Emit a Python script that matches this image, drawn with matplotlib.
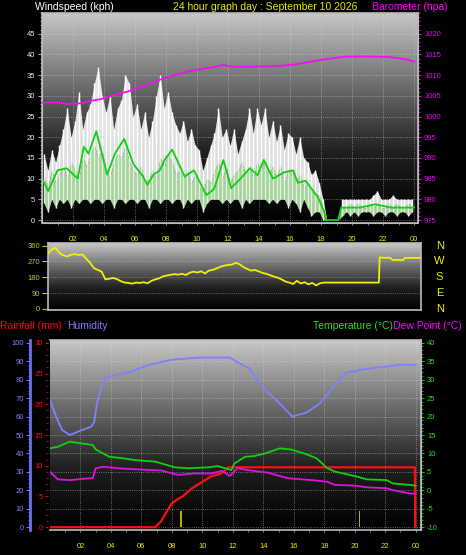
import matplotlib
matplotlib.use('Agg')
import matplotlib.pyplot as plt
import numpy as np
from matplotlib.colors import LinearSegmentedColormap

plt.rcParams['font.family'] = ['Liberation Sans', 'DejaVu Sans']
plt.rcParams['axes.unicode_minus'] = False

# ---- wind speed (kph), 15 minute samples ----
gust = [16, 12, 17, 14, 18, 22, 27, 20, 24, 31, 22, 26, 28, 33, 37, 30,
        26, 30, 22, 27, 29, 35, 33, 25, 28, 22, 26, 20, 24, 30, 35, 27,
        31, 26, 23, 21, 24, 19, 22, 18, 17, 12, 15, 18, 21, 27, 20, 22,
        18, 22, 16, 19, 22, 27, 21, 27, 23, 27, 20, 24, 19, 23, 17, 21,
        20, 16, 20, 15, 14, 11, 12, 9, 5, 0, 0, 0, 0, 5, 5, 5,
        5, 5, 5, 5, 5, 6, 7, 5, 5, 5, 6, 5, 5, 5, 5, 5]
speed_hi = [10, 8, 12, 9, 11, 13, 10, 14, 12, 10, 15, 13, 16, 18, 15, 17,
            12, 10, 14, 16, 15, 18, 14, 12, 11, 13, 9, 10, 12, 10, 15, 13,
            16, 14, 11, 12, 10, 12, 9, 11, 8, 7, 10, 9, 12, 14, 10, 13,
            9, 11, 12, 14, 11, 13, 10, 14, 12, 15, 11, 13, 10, 13, 9, 12,
            12, 9, 11, 8, 9, 7, 6, 6, 3, 0, 0, 0, 0, 3, 3, 4,
            3, 4, 3, 3, 4, 3, 4, 3, 3, 4, 3, 4, 3, 3, 4, 3]
speed_lo = [4, 2, 5, 3, 5, 4, 5, 3, 5, 4, 5, 5, 4, 5, 5, 4,
            5, 5, 3, 5, 5, 4, 5, 5, 4, 5, 5, 3, 5, 5, 4, 5,
            5, 4, 5, 5, 3, 5, 4, 5, 5, 2, 4, 5, 5, 5, 4, 5,
            4, 5, 5, 3, 5, 4, 5, 5, 5, 5, 4, 5, 4, 5, 5, 3,
            5, 4, 2, 5, 3, 1, 2, 2, 0, 0, 0, 0, 0, 1, 2, 1,
            2, 1, 2, 2, 2, 1, 2, 2, 1, 2, 2, 1, 2, 2, 1, 2]
avg_t = [0, 0.4, 1.0, 1.6, 2.3, 2.7, 3.0, 3.5, 3.8, 4.2, 4.7, 5.3, 5.9, 6.5, 6.8,
         7.2, 7.6, 7.9, 8.4, 9.2, 9.8, 10.6, 11.1, 11.7, 12.2, 12.8, 13.4, 13.9,
         14.3, 14.9, 15.6, 16.2, 16.5, 17.0, 17.4, 17.8, 18.2, 18.3, 19.1, 19.3,
         20.5, 21.5, 22.5, 23.5, 24]
avg_v = [10, 7, 12, 12.5, 10, 17.7, 16, 21.4, 17, 11, 16, 19.6, 13.5, 10.6, 8.5,
         11, 12, 14.5, 17, 10.5, 12, 6, 7.5, 14.5, 7.7, 10, 12.5, 10.8,
         14.5, 10, 11.5, 12, 9, 9.5, 7.5, 5.5, 2, 0, 0, 3,
         3, 3.8, 3, 3, 3]

# ---- barometer (hPa) ----
baro_t = [0, 1.0, 1.6, 2.5, 3.2, 3.8, 4.5, 5.5, 6.2, 7.0, 7.9, 8.3, 9.2, 10.0, 10.6,
          11.2, 11.7, 12.3, 13.0, 14.3, 15.2, 16.2, 17.0, 18.0, 19.0, 19.7, 21.0,
          22.3, 23.2, 24]
baro_v = [1003.3, 1003.4, 1003.0, 1003.2, 1003.8, 1004.2, 1005.0, 1006.0, 1007.0,
          1008.0, 1009.3, 1009.7, 1010.7, 1011.3, 1011.7, 1012.0, 1012.5, 1012.0,
          1012.0, 1012.1, 1012.2, 1012.5, 1013.0, 1013.7, 1014.2, 1014.5, 1014.5,
          1014.4, 1014.0, 1013.3]

# ---- wind direction (deg) ----
dir_t = [0.0, 0.25, 0.5, 0.75, 1.0, 1.25, 1.5, 1.75, 2.0, 2.25, 2.5, 2.75, 3.0, 3.25,
         3.5, 3.75, 4.0, 4.25, 4.5, 4.75, 5.0, 5.25, 5.5, 5.75, 6.0, 6.25, 6.5, 6.75,
         7.0, 7.25, 7.5, 7.75, 8.0, 8.25, 8.5, 8.75, 9.0, 9.25, 9.5, 9.75, 10.0,
         10.25, 10.5, 10.75, 11.0, 11.25, 11.5, 11.75, 12.0, 12.25, 12.5, 12.75,
         13.0, 13.25, 13.5, 13.75, 14.0, 14.25, 14.5, 14.75, 15.0, 15.25, 15.5,
         15.75, 16.0, 16.25, 16.5, 16.75, 17.0, 17.25, 17.5, 17.75, 18.0,
         21.6, 21.65, 22.0, 22.3, 22.5, 23.2, 23.3, 24.35]
dir_v = [316, 340, 348, 318, 305, 298, 308, 312, 306, 310, 285, 262, 232, 222,
         212, 168, 172, 176, 170, 158, 150, 148, 144, 150, 148, 152, 146, 160,
         168, 174, 185, 190, 194, 198, 195, 200, 193, 206, 212, 207, 214,
         202, 218, 222, 230, 240, 246, 250, 252, 262, 255, 238,
         228, 218, 222, 214, 205, 200, 192, 184, 178, 168, 156,
         150, 142, 160, 145, 152, 140, 148, 134, 146, 150,
         150, 294, 290, 292, 279, 279, 290, 290]

# ---- humidity / rain / temperature / dew point ----
hum_t = [0, 0.4, 0.8, 1.3, 2.1, 2.7, 2.9, 3.1, 3.4, 3.7, 4.5, 5.2, 6.5, 7.9, 9.0,
         9.8, 11.0, 11.8, 12.4, 13.1, 13.6, 14.2, 15.1, 15.9, 16.3, 16.8, 17.7,
         18.4, 19.4, 20.5, 21.7, 23.0, 24]
hum_v = [69, 60, 52.7, 50, 52.7, 54.5, 57, 68, 77, 81, 83, 84, 88, 90.7, 91.5,
         92, 92, 92, 89, 86, 80, 74, 67, 60, 61, 62, 67,
         74, 83.6, 85.5, 86.8, 88, 88]
rain_t = [0, 6.9, 7.3, 7.6, 8.0, 8.4, 8.7, 9.3, 10.0, 10.6, 11.2, 11.4, 11.7, 23.95, 23.97]
rain_v = [0, 0, 1, 2.3, 3.9, 4.6, 5.0, 6.3, 7.4, 8.3, 8.7, 9.0, 9.75, 9.75, 0]
rate_t = [8.6, 20.3]
rate_v = [2.7, 2.7]
temp_t = [0, 0.5, 1.3, 2.0, 2.8, 3.0, 3.9, 4.8, 5.6, 6.9, 8.2, 9.1, 10.4, 11.0, 11.5,
          11.9, 12.1, 12.8, 13.4, 14.1, 15.1, 15.8, 16.7, 17.5, 18.2, 18.7, 20.0,
          20.8, 22.1, 22.5, 23.6, 24]
temp_v = [11.4, 11.8, 13.2, 12.75, 12.3, 11.1, 9.1, 8.7, 8.2, 7.8, 6.25, 6.0, 6.25,
          6.6, 6.0, 5.5, 7.3, 9.1, 9.3, 10.0, 11.4, 11.1, 10.0, 8.7, 6.0, 5.1, 3.9,
          3.0, 2.8, 1.9, 1.5, 1.3]
dew_t = [0, 0.5, 1.3, 2.6, 2.8, 3.0, 3.5, 4.8, 6.7, 7.3, 8.4, 9.5, 10.6, 11.3, 11.8,
         12.3, 13.0, 14.3, 15.6, 17.2, 18.2, 18.7, 20.0, 20.8, 22.1, 22.5, 23.6, 24]
dew_v = [5.1, 3.0, 2.8, 3.3, 3.3, 6.0, 6.4, 5.9, 5.5, 5.4, 4.2, 4.6, 4.6, 5.3, 3.9,
         6.0, 5.5, 4.8, 3.3, 2.8, 2.35, 1.5, 1.3, 0.85, 0.6, 0.1, -0.8, -0.9]

hour_ticks = list(range(2, 25, 2))
hour_labels = ['%02d' % (h % 24) for h in hour_ticks]

W, H = 466, 555
fig = plt.figure(figsize=(W / 100, H / 100), dpi=100, facecolor='black')
PT = 0.72  # points per pixel at dpi 100

def px_axes(x0, y0, x1, y1):
    return fig.add_axes([x0 / W, 1 - y1 / H, (x1 - x0) / W, (y1 - y0) / H])

bg = LinearSegmentedColormap.from_list('bg', ['#000000', '#202020', '#707070', '#c8c8c8'])
grad = np.linspace(0, 1, 256).reshape(-1, 1)
YEL = '#e8e800'

def style_panel(ax):
    ax.set_facecolor('black')
    ax.imshow(grad, extent=[0, 1, 0, 1], transform=ax.transAxes, cmap=bg,
              aspect='auto', zorder=0, origin='lower')
    for s in ax.spines.values():
        s.set_color('#bbbbbb')
        s.set_linewidth(1.2)

# ================= wind / barometer panel =================
ax1 = px_axes(42, 13, 418, 222.5)
style_panel(ax1)
ax1.set_xlim(0, 24.25)
ax1.set_ylim(-0.6, 50)
t = np.arange(len(gust)) * 0.25 + 0.125
ax1.fill_between(t, speed_hi, gust, color='#f4f4f4', alpha=0.9, linewidth=0, zorder=2)
ax1.vlines(t, speed_hi, gust, colors='#ffffff', linewidth=1.0, zorder=2)
ax1.fill_between(t, speed_lo, speed_hi, color='#c8f0c0', alpha=0.85, linewidth=0, zorder=3)
ax1.vlines(t, speed_lo, speed_hi, colors='#d8f8d0', linewidth=1.0, zorder=3)
ax1.plot(avg_t, avg_v, color='#10d010', linewidth=1.3, zorder=4)
ax1.set_yticks(range(0, 50, 5))
ax1.set_yticks(range(0, 51), minor=True)
ax1.set_xticks(hour_ticks)
ax1.set_xticklabels(hour_labels)
ax1.set_xticks(range(1, 25), minor=True)
ax1.tick_params(axis='y', which='both', colors='#999999', labelcolor='#e6eeff',
                labelsize=5.5, length=4 * PT, pad=3 * PT)
ax1.tick_params(axis='y', which='minor', length=2 * PT)
ax1.tick_params(axis='x', which='both', colors='#888888', labelcolor=YEL,
                labelsize=5.5, length=2 * PT, pad=8)
ax1.grid(True, which='major', color='#d8d8d8', linestyle=':', linewidth=0.6, alpha=0.6)

axb = ax1.twinx()
axb.set_ylim(975 - 0.6, 1025)
axb.plot(baro_t, baro_v, color='#f010f0', linewidth=1.3, zorder=5)
axb.set_yticks(range(975, 1025, 5))
axb.set_yticks(range(975, 1026), minor=True)
axb.tick_params(axis='y', which='both', colors='#d020d0', labelcolor='#f000ff',
                labelsize=5.5, length=3 * PT, pad=3 * PT)
axb.tick_params(axis='y', which='minor', length=2 * PT)
for s in axb.spines.values():
    s.set_color('#bbbbbb')

fig.text(35 / W, 1 - 7 / H, 'Windspeed (kph)', color='white', fontsize=7.5, va='center')
fig.text(173 / W, 1 - 7 / H, '24 hour graph day : September 10 2026', color=YEL,
         fontsize=7.5, va='center')
fig.text(372 / W, 1 - 7 / H, 'Barometer (hpa)', color='#ff00ff', fontsize=7.5, va='center')

# ================= wind direction panel =================
ax2 = px_axes(48, 243, 421, 310)
style_panel(ax2)
ax2.set_xlim(0, 24.35)
ax2.set_ylim(-6, 375)
ax2.plot(dir_t, dir_v, color='#f0f000', linewidth=1.3, zorder=3)
ax2.set_yticks([0, 90, 180, 270, 360])
ax2.set_xticks([])
ax2.tick_params(axis='y', colors='#c8c800', labelsize=5.5, length=6 * PT, pad=2 * PT)
ax2.grid(True, axis='y', color='#d8d8d8', linestyle=':', linewidth=0.6, alpha=0.5)
for lab, v in zip(['N', 'W', 'S', 'E', 'N'], [360, 270, 180, 90, 0]):
    ax2.text(1.05, (v + 6) / 381, lab, transform=ax2.transAxes, color='#f0f000',
             fontsize=8, ha='center', va='center')

# ================= humidity / rain / temperature panel =================
ax3 = px_axes(50, 340, 421, 530)
style_panel(ax3)
ax3.set_xlim(0, 24.35)
ax3.set_ylim(-1.5, 101.5)
ax3.plot(hum_t, hum_v, color='#8080ff', linewidth=1.3, zorder=3)
ax3.set_yticks(range(0, 101, 10))
ax3.set_yticks(range(0, 101, 2), minor=True)
ax3.spines['left'].set_position(('outward', 20 * PT))
ax3.spines['left'].set_color('#7070f0')
ax3.spines['left'].set_linewidth(2)
ax3.tick_params(axis='y', which='both', colors='#7070f0', labelcolor='#8080ff',
                labelsize=5.5, length=4 * PT, pad=2 * PT)
ax3.tick_params(axis='y', which='minor', length=2 * PT)
ax3.set_xticks(hour_ticks)
ax3.set_xticklabels(hour_labels)
ax3.set_xticks(range(1, 25), minor=True)
ax3.tick_params(axis='x', which='both', colors='#888888', labelcolor=YEL,
                labelsize=5.5, length=2 * PT, pad=8)
ax3.grid(True, which='major', color='#d8d8d8', linestyle=':', linewidth=0.6, alpha=0.6)

axr = ax3.twinx()
axr.set_ylim(-0.45, 30.45)
axr.yaxis.tick_left()
axr.spines['left'].set_position(('outward', 2 * PT))
for name in ['left', 'right', 'top', 'bottom']:
    axr.spines[name].set_visible(False)
axr.bar(rate_t, rate_v, width=0.08, color='#b0b000', zorder=2)
axr.plot(rain_t, rain_v, color='#ff1010', linewidth=1.6, zorder=6)
axr.set_yticks(range(0, 31, 5))
axr.set_yticks(range(0, 31, 1), minor=True)
axr.tick_params(axis='y', which='both', colors='#d01010', labelcolor='#ff1010',
                labelsize=5.5, length=3 * PT, pad=2 * PT)
axr.tick_params(axis='y', which='minor', length=2 * PT)

axt = ax3.twinx()
axt.set_ylim(-10.7, 40.7)
axt.plot(temp_t, temp_v, color='#10d010', linewidth=1.3, zorder=4)
axt.plot(dew_t, dew_v, color='#e010e0', linewidth=1.3, zorder=4)
axt.set_yticks(range(-10, 41, 5))
axt.set_yticks(range(-10, 41), minor=True)
axt.tick_params(axis='y', which='both', colors='#10c010', labelcolor='#20e020',
                labelsize=5.5, length=3 * PT, pad=3 * PT)
axt.tick_params(axis='y', which='minor', length=2 * PT)
for name in ['left', 'top', 'bottom']:
    axt.spines[name].set_visible(False)
axt.spines['right'].set_color('#bbbbbb')

fig.text(0 / W, 1 - 326 / H, 'Rainfall (mm)', color='#ff0000', fontsize=7.5, va='center')
fig.text(67 / W, 1 - 326 / H, 'Humidity', color='#8080ff', fontsize=7.5, va='center')
fig.text(313 / W, 1 - 326 / H, 'Temperature (\u00b0C)', color='#20e020', fontsize=7.5,
         va='center')
fig.text(393 / W, 1 - 326 / H, 'Dew Point (\u00b0C)', color='#ff00ff', fontsize=7.5,
         va='center')

fig.savefig('out.png', dpi=100, facecolor='black')
